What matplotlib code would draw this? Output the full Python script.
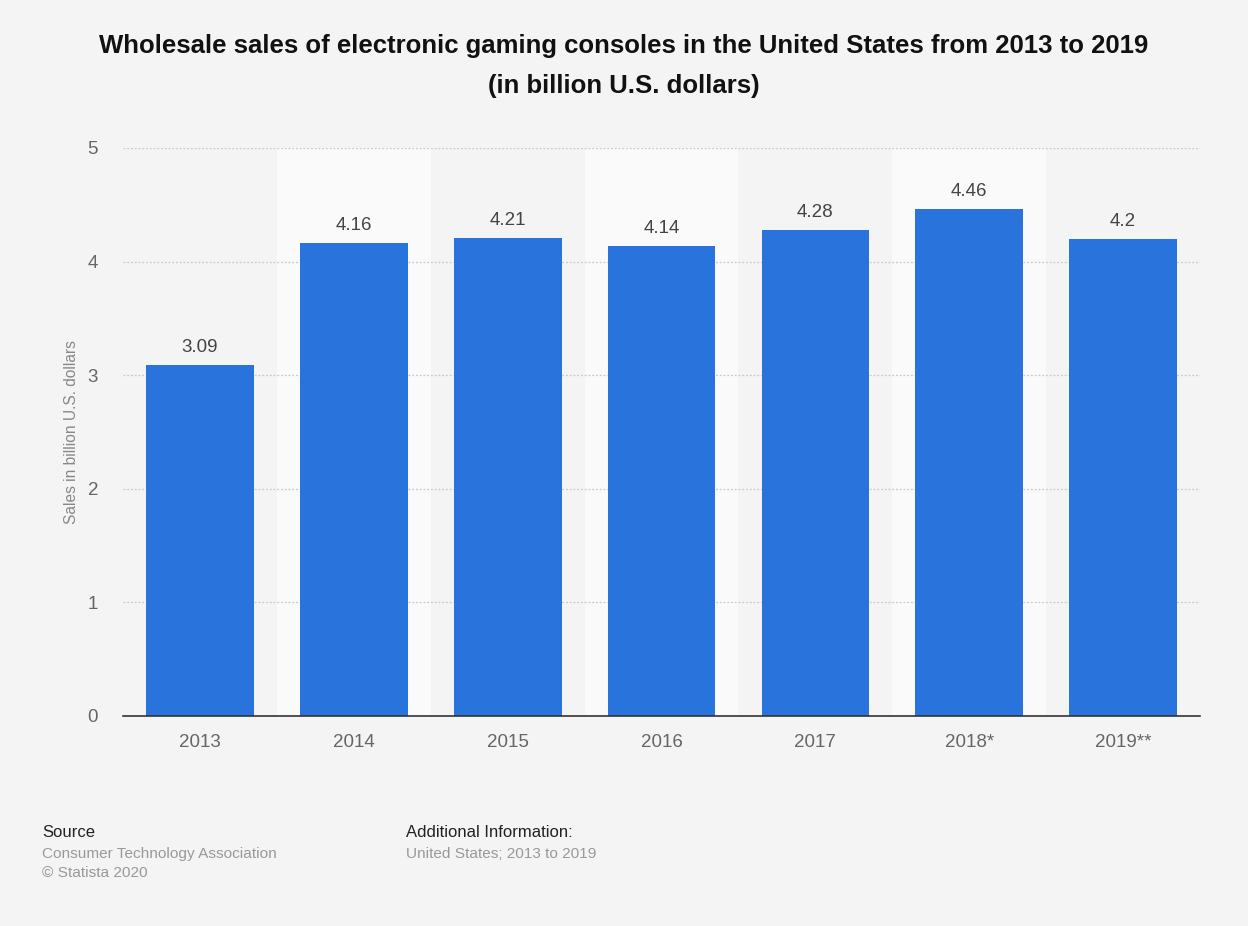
import numpy as np
import matplotlib
matplotlib.use('Agg')
import matplotlib.pyplot as plt

plt.rcParams['font.family'] = ['Liberation Sans', 'DejaVu Sans']

years = ['2013', '2014', '2015', '2016', '2017', '2018*', '2019**']
sales = [3.09, 4.16, 4.21, 4.14, 4.28, 4.46, 4.2]

bg = '#f4f4f4'
fig = plt.figure(figsize=(12.48, 9.26), dpi=100, facecolor=bg)
ax = fig.add_axes([0.0986, 0.2268, 0.8629, 0.6134])
ax.set_facecolor(bg)

x = np.arange(len(years))
# lighter bands behind every other category
for i in x[1::2]:
    ax.axvspan(i - 0.5, i + 0.5, color='#fafafa', zorder=0, lw=0)

ax.bar(x, sales, width=0.7, color='#2874dc', zorder=3)
for xi, v in zip(x, sales):
    ax.text(xi, v + 0.08, f'{v:g}', ha='center', va='bottom',
            fontsize=13.5, color='#444444', zorder=4)

ax.set_xlim(-0.5, len(years) - 0.5)
ax.set_ylim(0, 5)
ax.set_yticks(range(6))
ax.set_xticks(x)
ax.set_xticklabels(years)
ax.tick_params(axis='both', length=0, labelsize=13.5, labelcolor='#666666')
ax.tick_params(axis='x', pad=13)
ax.tick_params(axis='y', pad=18)
ax.yaxis.grid(True, color='#c8c8c8', linestyle=(0, (1.5, 1.5)), lw=0.9, zorder=1)
for s in ['top', 'right', 'left']:
    ax.spines[s].set_visible(False)
ax.spines['bottom'].set_color('#333333')
ax.spines['bottom'].set_linewidth(1.2)
ax.spines['bottom'].set_zorder(5)

ax.set_ylabel('Sales in billion U.S. dollars', fontsize=11.2, color='#888888', labelpad=6)

fig.text(0.5, 0.950, 'Wholesale sales of electronic gaming consoles in the United States from 2013 to 2019',
         ha='center', va='center', fontsize=18.5, fontweight='bold', color='#111111')
fig.text(0.5, 0.907, '(in billion U.S. dollars)',
         ha='center', va='center', fontsize=18.5, fontweight='bold', color='#111111')

fig.text(0.034, 0.101, 'Source', fontsize=12, color='#222222', va='center')
fig.text(0.034, 0.078, 'Consumer Technology Association', fontsize=11.1, color='#999999', va='center')
fig.text(0.034, 0.057, '\u00a9 Statista 2020', fontsize=11.1, color='#999999', va='center')
fig.text(0.325, 0.101, 'Additional Information:', fontsize=12, color='#222222', va='center')
fig.text(0.325, 0.078, 'United States; 2013 to 2019', fontsize=11.1, color='#999999', va='center')

fig.savefig('out.png', dpi=100, facecolor=bg)
